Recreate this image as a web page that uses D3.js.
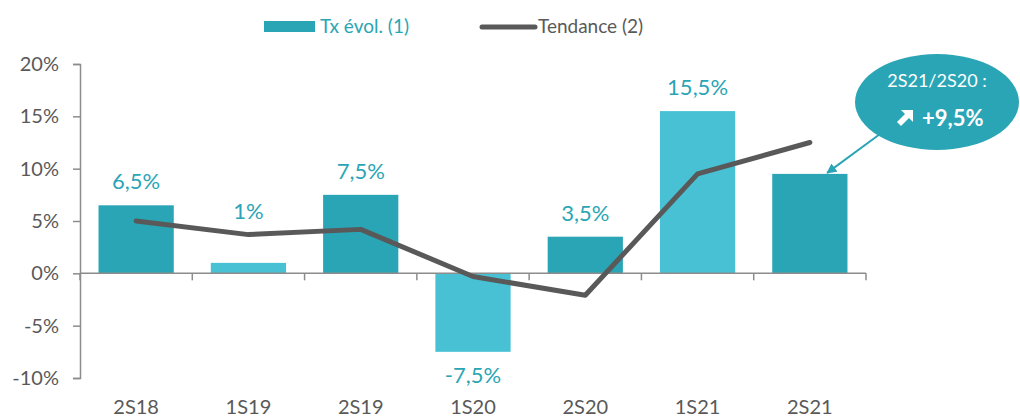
<!DOCTYPE html>
<html>
<head>
<meta charset="utf-8">
<script src="https://cdn.jsdelivr.net/npm/d3@7"></script>
<style>
  body { margin: 0; background: #fff; }
  text { font-family: Lato, "Open Sans", sans-serif; }
</style>
</head>
<body>
<div id="vis"></div>
<script>
// data
const categories = ["2S18", "1S19", "2S19", "1S20", "2S20", "1S21", "2S21"];
const evolution = [6.5, 1, 7.5, -7.5, 3.5, 15.5, 9.5];
const evolutionLabels = ["6,5%", "1%", "7,5%", "-7,5%", "3,5%", "15,5%", ""];
const tendance = [5, 3.7, 4.2, -0.3, -2.1, 9.5, 12.5];
const yTicks = [-10, -5, 0, 5, 10, 15, 20];

const width = 1020;
const height = 417;
const dark = "#2aa5b5";
const light = "#48c1d4";
const grey = "#595959";

const svg = d3.select("#vis").append("svg")
  .attr("width", width)
  .attr("height", height);

const x = d3.scaleBand().domain(categories).range([80, 866]).paddingInner(0.33).paddingOuter(0.165);
const y = d3.scaleLinear().domain([-10, 20]).range([378, 64]);
const cx = d => x(d) + x.bandwidth() / 2;

// y axis
const yAxis = svg.append("g")
  .attr("transform", "translate(80,0)")
  .call(d3.axisLeft(y).tickValues(yTicks).tickSize(7).tickPadding(14)
    .tickFormat(d => d + "%"));
yAxis.select(".domain").attr("stroke", "#8c8c8c").attr("stroke-width", 1.5);
yAxis.selectAll(".tick line").attr("stroke", "#8c8c8c").attr("stroke-width", 1.5);
yAxis.selectAll("text").attr("fill", grey).style("font-size", "20px");

// bars
svg.selectAll(".bar")
  .data(evolution)
  .enter()
  .append("rect")
  .attr("class", "bar")
  .attr("x", (d, i) => x(categories[i]))
  .attr("width", x.bandwidth())
  .attr("y", d => y(Math.max(0, d)))
  .attr("height", d => Math.abs(y(d) - y(0)))
  .attr("fill", (d, i) => (i % 2 === 0 ? dark : light));

// zero line with category-boundary ticks
svg.append("line")
  .attr("x1", 80).attr("x2", 866)
  .attr("y1", y(0)).attr("y2", y(0))
  .attr("stroke", "#8c8c8c").attr("stroke-width", 1.5);

const step = x.step();
const bounds = d3.range(categories.length + 1).map(i => 80 + i * step);
svg.selectAll(".xtick")
  .data(bounds)
  .enter()
  .append("line")
  .attr("x1", d => d).attr("x2", d => d)
  .attr("y1", y(0)).attr("y2", y(0) + 7)
  .attr("stroke", "#8c8c8c").attr("stroke-width", 1.5);

// category labels
svg.selectAll(".xlabel")
  .data(categories)
  .enter()
  .append("text")
  .attr("x", cx)
  .attr("y", 414)
  .attr("text-anchor", "middle")
  .attr("fill", grey)
  .style("font-size", "20px")
  .text(d => d);

// value labels: above the bar, or above the trend line when it passes over the bar
svg.selectAll(".vlabel")
  .data(evolution)
  .enter()
  .append("text")
  .attr("x", (d, i) => cx(categories[i]))
  .attr("y", (d, i) => (d >= 0 ? Math.min(y(d), y(tendance[i])) - 16 : y(d) + 31))
  .attr("text-anchor", "middle")
  .attr("fill", dark)
  .style("font-size", "22px")
  .text((d, i) => evolutionLabels[i]);

// trend line
const line = d3.line()
  .x((d, i) => cx(categories[i]))
  .y(d => y(d));
svg.append("path")
  .datum(tendance)
  .attr("d", line)
  .attr("fill", "none")
  .attr("stroke", grey)
  .attr("stroke-width", 5)
  .attr("stroke-linecap", "round")
  .attr("stroke-linejoin", "round");

// legend
svg.append("rect")
  .attr("x", 264).attr("y", 21).attr("width", 51).attr("height", 11)
  .attr("fill", dark);
svg.append("text")
  .attr("x", 320).attr("y", 33)
  .attr("fill", dark)
  .style("font-size", "19px")
  .text("Tx évol. (1)");
svg.append("line")
  .attr("x1", 482).attr("x2", 535).attr("y1", 27).attr("y2", 27)
  .attr("stroke", grey).attr("stroke-width", 5).attr("stroke-linecap", "round");
svg.append("text")
  .attr("x", 538).attr("y", 33)
  .attr("fill", grey)
  .style("font-size", "19px")
  .text("Tendance (2)");

// callout
svg.append("defs").append("marker")
  .attr("id", "arrow")
  .attr("viewBox", "0 0 10 10")
  .attr("refX", 9).attr("refY", 5)
  .attr("markerWidth", 5).attr("markerHeight", 5)
  .attr("orient", "auto")
  .append("path")
  .attr("d", "M0,0 L10,5 L0,10 z")
  .attr("fill", dark);

const last = categories.length - 1;
svg.append("line")
  .attr("x1", 880).attr("y1", 134)
  .attr("x2", x(categories[last]) + x.bandwidth() * 0.73).attr("y2", y(evolution[last]) - 1)
  .attr("stroke", dark).attr("stroke-width", 2)
  .attr("marker-end", "url(#arrow)");

svg.append("ellipse")
  .attr("cx", 937).attr("cy", 102).attr("rx", 82).attr("ry", 48)
  .attr("fill", dark);
svg.append("text")
  .attr("x", 937).attr("y", 87)
  .attr("text-anchor", "middle")
  .attr("fill", "#fff")
  .style("font-size", "18px")
  .text("2S21/2S20 :");

// bold up-right arrow icon
const icon = svg.append("g").attr("transform", "translate(897,110)");
icon.append("path")
  .attr("d", "M4,0 L16,0 L16,12 L12,8 L4,16 L0,12 L8,4 Z")
  .attr("fill", "#fff");
svg.append("text")
  .attr("x", 922).attr("y", 126)
  .attr("fill", "#fff")
  .style("font-size", "22px")
  .style("font-weight", "bold")
  .text("+9,5%");
</script>
</body>
</html>
